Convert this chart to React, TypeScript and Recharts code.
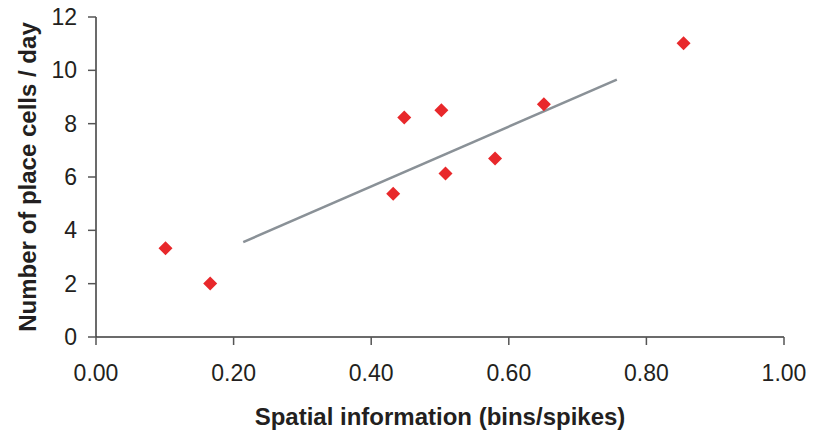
import { ScatterChart, Scatter, XAxis, YAxis, ReferenceLine, Label } from 'recharts';

const spatialInfo = [0.101, 0.166, 0.432, 0.448, 0.502, 0.508, 0.58, 0.651, 0.854];
const placeCells = [3.33, 2.01, 5.37, 8.23, 8.5, 6.13, 6.69, 8.73, 11.02];
const trendX = [0.214, 0.757];
const trendY = [3.56, 9.65];
const xTicks = [0, 0.2, 0.4, 0.6, 0.8, 1.0];
const yTicks = [0, 2, 4, 6, 8, 10, 12];

const points = spatialInfo.map((x, i) => ({ x, y: placeCells[i] }));
const trend = trendX.map((x, i) => ({ x, y: trendY[i] }));

const FONT = '"Liberation Sans", Arial, sans-serif';
const tickStyle = { fill: '#231f20', fontSize: 23, fontFamily: FONT };

function Diamond(props: any) {
  const { cx, cy } = props;
  const r = 7;
  return (
    <polygon
      points={`${cx},${cy - r} ${cx + r},${cy} ${cx},${cy + r} ${cx - r},${cy}`}
      fill="#e8282b"
    />
  );
}

export default function App() {
  return (
    <div style={{ position: 'absolute', left: 0, top: 0, background: '#fff' }}>
      <ScatterChart width={813} height={435} margin={{ top: 17, right: 29, left: 0, bottom: 0 }}>
        <XAxis
          type="number"
          dataKey="x"
          domain={[0, 1]}
          ticks={xTicks}
          tickFormatter={(v) => v.toFixed(2)}
          tick={tickStyle}
          tickSize={8}
          tickMargin={20}
          height={98}
          stroke="#3a3a3a"
          strokeWidth={1.5}
          tickLine={{ stroke: '#555' }}
        >
          <Label
            value="Spatial information (bins/spikes)"
            position="insideBottom"
            offset={10}
            style={{ fill: '#231f20', fontSize: 24, fontWeight: 'bold', fontFamily: FONT }}
          />
        </XAxis>
        <YAxis
          type="number"
          dataKey="y"
          domain={[0, 12]}
          ticks={yTicks}
          tick={tickStyle}
          tickSize={8}
          tickMargin={11}
          width={96}
          stroke="#3a3a3a"
          strokeWidth={1.5}
          tickLine={{ stroke: '#555' }}
        >
          <Label
            value="Number of place cells / day"
            angle={-90}
            position="insideLeft"
            offset={27}
            style={{
              fill: '#231f20',
              fontSize: 24,
              fontWeight: 'bold',
              fontFamily: FONT,
              textAnchor: 'middle',
            }}
          />
        </YAxis>
        <ReferenceLine
          segment={[trend[0], trend[1]]}
          stroke="#8a9197"
          strokeWidth={2.5}
        />
        <Scatter data={points} shape={<Diamond />} isAnimationActive={false} />
      </ScatterChart>
    </div>
  );
}
